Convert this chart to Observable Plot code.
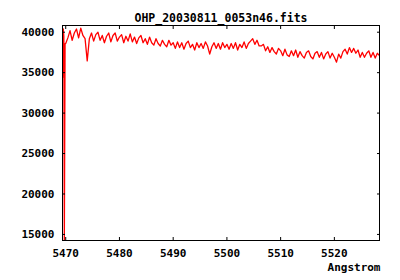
<!DOCTYPE html>
<html>
<head>
<meta charset="utf-8">
<script src="https://cdn.jsdelivr.net/npm/d3@7"></script>
<script src="https://cdn.jsdelivr.net/npm/@observablehq/plot@0.6"></script>
<style>
  html, body { margin: 0; padding: 0; background: #fff; }
  #chart { width: 400px; height: 280px; }
</style>
</head>
<body>
<div id="chart"></div>
<script>
const title = "OHP_20030811_0053n46.fits";
const xLabel = "Angstrom";
const xTicks = [5470, 5480, 5490, 5500, 5510, 5520];
const yTicks = [15000, 20000, 25000, 30000, 35000, 40000];
const xDomain = [5469.4, 5528.4];
const yDomain = [14250, 40830];

const wavelength = [
  5469.42, 5469.55, 5469.65, 5469.74, 5469.88,
  5470.0, 5470.4, 5470.8, 5471.2, 5471.6, 5472.0, 5472.4, 5472.8, 5473.2, 5473.6,
  5474.0, 5474.4, 5474.8, 5475.2, 5475.6, 5476.0, 5476.4, 5476.8, 5477.2, 5477.6,
  5478.0, 5478.4, 5478.8, 5479.2, 5479.6, 5480.0, 5480.4, 5480.8, 5481.2, 5481.6,
  5482.0, 5482.4, 5482.8, 5483.2, 5483.6, 5484.0, 5484.4, 5484.8, 5485.2, 5485.6,
  5486.0, 5486.4, 5486.8, 5487.2, 5487.6, 5488.0, 5488.4, 5488.8, 5489.2, 5489.6,
  5490.0, 5490.4, 5490.8, 5491.2, 5491.6, 5492.0, 5492.4, 5492.8, 5493.2, 5493.6,
  5494.0, 5494.4, 5494.8, 5495.2, 5495.6, 5496.0, 5496.4, 5496.8, 5497.2, 5497.6,
  5498.0, 5498.4, 5498.8, 5499.2, 5499.6, 5500.0, 5500.4, 5500.8, 5501.2, 5501.6,
  5502.0, 5502.4, 5502.8, 5503.2, 5503.6, 5504.0, 5504.4, 5504.8, 5505.2, 5505.6,
  5506.0, 5506.4, 5506.8, 5507.2, 5507.6, 5508.0, 5508.4, 5508.8, 5509.2, 5509.6,
  5510.0, 5510.4, 5510.8, 5511.2, 5511.6, 5512.0, 5512.4, 5512.8, 5513.2, 5513.6,
  5514.0, 5514.4, 5514.8, 5515.2, 5515.6, 5516.0, 5516.4, 5516.8, 5517.2, 5517.6,
  5518.0, 5518.4, 5518.8, 5519.2, 5519.6, 5520.0, 5520.4, 5520.8, 5521.2, 5521.6,
  5522.0, 5522.4, 5522.8, 5523.2, 5523.6, 5524.0, 5524.4, 5524.8, 5525.2, 5525.6,
  5526.0, 5526.4, 5526.8, 5527.2, 5527.6, 5528.0, 5528.4
];

const flux = [
  34400, 40400, 39500, 14250, 38600,
  38600, 39300, 40200, 39000, 39900, 40400, 39300, 40500, 39600, 39200,
  36450,
  39200, 39900, 38900, 39700, 40000, 39000, 39600, 38700, 39500, 39900, 38800, 39600, 39900, 38900,
  39400, 39700, 38700, 39500, 38900, 39800, 38800, 39400, 38600, 39300,
  39600, 38700, 39200, 38500, 39400, 38700, 38400, 39200, 38600, 38300,
  39000, 38500, 38200, 39000, 38400,
  38700, 38000, 38800, 38100, 38700, 37900, 38600, 38900, 38100, 38500,
  37800, 38700, 38100, 38600, 38000, 38800, 38300, 37300, 38200, 38700,
  38000, 38600, 37900, 38700, 38100,
  38500, 37900, 38600, 38000, 38700, 37800, 38500, 38100, 38800, 38000, 38600, 38900,
  39200, 38500, 39000, 38300,
  38300, 38500, 37700, 38200, 37500, 38100, 37600, 37300, 38000,
  37700, 37100, 37900, 37200, 37000, 37700, 37100, 37800, 36900, 37600,
  37100, 36800, 37500, 37700, 37000, 36700, 37400, 37600, 36900, 37500,
  36700, 37300, 37600, 36800, 37400,
  36900, 36300, 37300, 36800, 37600, 37900, 37300, 38100, 37500, 38000,
  37400, 37800, 36900, 37500, 36900, 37400, 37700, 36900, 37500, 36800,
  37400, 37100
];

const data = wavelength.map((w, i) => ({w, f: flux[i]}));
const font = "'DejaVu Sans Mono', monospace";

const chart = Plot.plot({
  width: 400,
  height: 280,
  marginLeft: 62,
  marginRight: 21,
  marginTop: 25,
  marginBottom: 40,
  style: {fontFamily: font, fontSize: "11px", fontWeight: "bold", background: "#fff", color: "#000"},
  x: {domain: xDomain},
  y: {domain: yDomain},
  marks: [
    Plot.line(data, {x: "w", y: "f", stroke: "#ff0000", strokeWidth: 1.3, clip: true}),
    Plot.frame({stroke: "#000", strokeWidth: 1}),
    Plot.axisX(xTicks, {anchor: "bottom", tickSize: -3, tickPadding: 12, label: null, tickFormat: d => String(d)}),
    Plot.axisX(xTicks, {anchor: "top", tickSize: -3, label: null, tickFormat: () => ""}),
    Plot.axisY(yTicks, {anchor: "left", tickSize: -3, tickPadding: 11, label: null, tickFormat: d => String(d)}),
    Plot.axisY(yTicks, {anchor: "right", tickSize: -3, label: null, tickFormat: () => ""}),
    Plot.text([title], {text: d => d, frameAnchor: "top", dy: -12, fontSize: 11.5, fontWeight: "bold"}),
    Plot.text([xLabel], {text: d => d, frameAnchor: "bottom-right", textAnchor: "end", dx: 1, dy: 30, fontWeight: "bold"})
  ]
});
document.getElementById("chart").appendChild(chart);
</script>
</body>
</html>
